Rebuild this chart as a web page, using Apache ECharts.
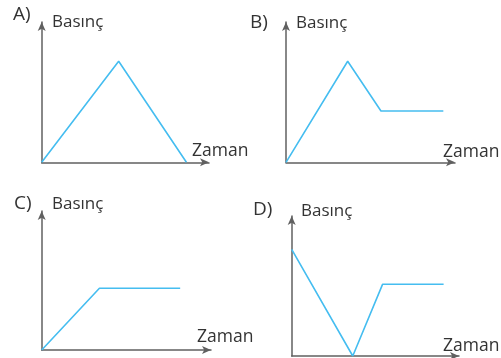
<!DOCTYPE html>
<html>
<head>
<meta charset="utf-8">
<script src="https://cdn.jsdelivr.net/npm/echarts@6/dist/echarts.min.js"></script>
<style>
html,body{margin:0;padding:0;background:#fff;}
#c{width:501px;height:358px;}
</style>
</head>
<body>
<div id="c"></div>
<script>
// Data (time units, pressure units; axes 0..10)
var panelLetters = ['A)', 'B)', 'C)', 'D)'];
var yAxisTitle = 'Basınç';
var xAxisTitle = 'Zaman';
var seriesA = [[0, 0], [4.6, 7.2], [8.65, 0]];
var seriesB = [[0, 0], [3.65, 7.2], [5.62, 3.66], [9.31, 3.66]];
var seriesC = [[0, 0], [3.41, 4.44], [8.18, 4.44]];
var seriesD = [[0, 7.62], [3.65, 0], [5.43, 5.12], [9.08, 5.12]];
var allSeries = [seriesA, seriesB, seriesC, seriesD];

// grid boxes: origin x, axis end x, axis end y, origin y
var boxes = [
  {x0: 41.7, x1: 209, y1: 22, y0: 162.3},
  {x0: 286, x1: 455, y1: 22, y0: 162.3},
  {x0: 41.7, x1: 211, y1: 211, y0: 350},
  {x0: 291.7, x1: 459, y1: 216, y0: 356}
];
var letterPos = [[13, 15], [250, 23], [14, 204], [253, 210]];
var yTitlePos = [[52, 22], [296, 23], [52, 204], [301, 211]];
var xTitlePos = [[192, 151], [443, 152], [197, 337], [443, 346]];

var axisColor = '#606060';
var lineColor = '#45bdf0';
var font = '"Open Sans", "Noto Sans", sans-serif';

var grids = [], xAxes = [], yAxes = [], series = [], graphics = [];
boxes.forEach(function (b, i) {
  grids.push({left: b.x0, top: b.y1, width: b.x1 - b.x0, height: b.y0 - b.y1, containLabel: false});
  var axCommon = {
    gridIndex: i, type: 'value', min: 0, max: 10,
    axisLine: {show: true, onZero: false, symbol: ['none', 'arrow'], symbolSize: [6, 9], symbolOffset: [0, 0],
      lineStyle: {color: axisColor, width: 1.5}},
    axisTick: {show: false}, axisLabel: {show: false}, splitLine: {show: false}
  };
  xAxes.push(Object.assign({}, axCommon));
  yAxes.push(Object.assign({}, axCommon));
  series.push({
    type: 'line', xAxisIndex: i, yAxisIndex: i, data: allSeries[i],
    symbol: 'none', lineStyle: {color: lineColor, width: 1.6}, animation: false, z: 3
  });
  graphics.push({type: 'text', x: letterPos[i][0], y: letterPos[i][1],
    style: {text: panelLetters[i], font: '19px ' + font, fill: '#333', verticalAlign: 'middle'}});
  graphics.push({type: 'text', x: yTitlePos[i][0], y: yTitlePos[i][1],
    style: {text: yAxisTitle, font: '17px ' + font, fill: '#333', verticalAlign: 'middle'}});
  graphics.push({type: 'text', x: xTitlePos[i][0], y: xTitlePos[i][1],
    style: {text: xAxisTitle, font: '17.5px ' + font, fill: '#333', verticalAlign: 'middle'}});
});

var chart = echarts.init(document.getElementById('c'), null, {renderer: 'canvas'});
chart.setOption({
  animation: false,
  backgroundColor: '#fff',
  grid: grids, xAxis: xAxes, yAxis: yAxes, series: series, graphic: graphics
});
</script>
</body>
</html>
